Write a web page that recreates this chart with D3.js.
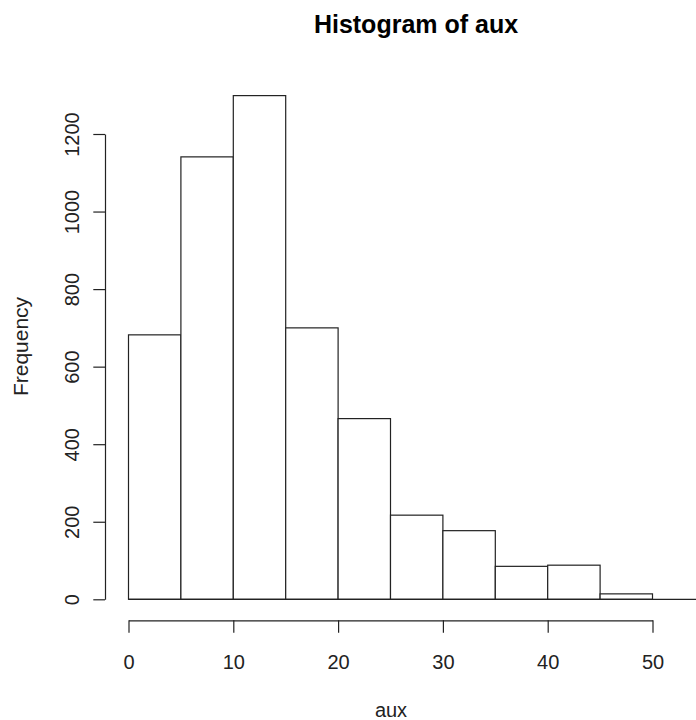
<!DOCTYPE html>
<html>
<head>
<meta charset="utf-8">
<script src="https://cdn.jsdelivr.net/npm/d3@7"></script>
<style>
  html, body { margin: 0; padding: 0; background: #fff; }
  svg { display: block; font-family: Arial, "Liberation Sans", sans-serif; }
</style>
</head>
<body>
<svg id="chart" width="696" height="720"></svg>
<script>
// Data
const binEdges = [0, 5, 10, 15, 20, 25, 30, 35, 40, 45, 50];
const counts = [682, 1141, 1299, 700, 466, 217, 177, 85, 88, 14];
const xTicks = [0, 10, 20, 30, 40, 50];
const yTicks = [0, 200, 400, 600, 800, 1000, 1200];
const titleText = "Histogram of aux";
const xLabel = "aux";
const yLabel = "Frequency";

const W = 696, H = 720;
const svg = d3.select("#chart");

const x = d3.scaleLinear().domain([0, 50]).range([128.5, 652.5]);
const y = d3.scaleLinear().domain([0, 1200]).range([599.3, 134]);

const bins = counts.map((c, i) => ({ x0: binEdges[i], x1: binEdges[i + 1], count: c }));

// bars
svg.append("g")
  .selectAll("rect")
  .data(bins)
  .join("rect")
  .attr("x", d => x(d.x0))
  .attr("y", d => y(d.count))
  .attr("width", d => x(d.x1) - x(d.x0))
  .attr("height", d => y(0) - y(d.count))
  .attr("fill", "#fff")
  .attr("stroke", "#222")
  .attr("stroke-width", 1.2);

// baseline
svg.append("line")
  .attr("x1", x(0)).attr("x2", W)
  .attr("y1", y(0)).attr("y2", y(0))
  .attr("stroke", "#222").attr("stroke-width", 1.2);

// x axis
const xAxis = svg.append("g")
  .attr("transform", "translate(0,620.3)")
  .call(d3.axisBottom(x).tickValues(xTicks).tickSize(12.4).tickSizeOuter(0).tickFormat(d3.format("d")));
xAxis.select(".domain").attr("stroke", "#222").attr("stroke-width", 1.2);
xAxis.selectAll(".tick line").attr("stroke", "#222").attr("stroke-width", 1.2);
xAxis.selectAll(".tick text")
  .attr("font-size", 20)
  .attr("font-family", "Arial, 'Liberation Sans', sans-serif")
  .attr("fill", "#222")
  .attr("dy", null)
  .attr("y", 48.7);

// y axis
const yAxis = svg.append("g")
  .attr("transform", "translate(105,0)")
  .call(d3.axisLeft(y).tickValues(yTicks).tickSize(11.7).tickSizeOuter(0).tickFormat(d3.format("d")));
yAxis.select(".domain").attr("stroke", "#222").attr("stroke-width", 1.2);
yAxis.selectAll(".tick line").attr("stroke", "#222").attr("stroke-width", 1.2);
yAxis.selectAll(".tick text")
  .attr("font-size", 20)
  .attr("font-family", "Arial, 'Liberation Sans', sans-serif")
  .attr("fill", "#222")
  .attr("x", null).attr("dy", null)
  .attr("text-anchor", "middle")
  .attr("transform", "translate(-26,0) rotate(-90)");

// title
svg.append("text")
  .attr("x", 416).attr("y", 33.3)
  .attr("text-anchor", "middle")
  .attr("font-size", 25)
  .attr("font-weight", "bold")
  .attr("fill", "#000")
  .text(titleText);

// x label
svg.append("text")
  .attr("x", 391).attr("y", 717)
  .attr("text-anchor", "middle")
  .attr("font-size", 20)
  .attr("fill", "#222")
  .text(xLabel);

// y label
svg.append("text")
  .attr("transform", "translate(28,346.5) rotate(-90)")
  .attr("text-anchor", "middle")
  .attr("font-size", 21)
  .attr("fill", "#222")
  .text(yLabel);
</script>
</body>
</html>
